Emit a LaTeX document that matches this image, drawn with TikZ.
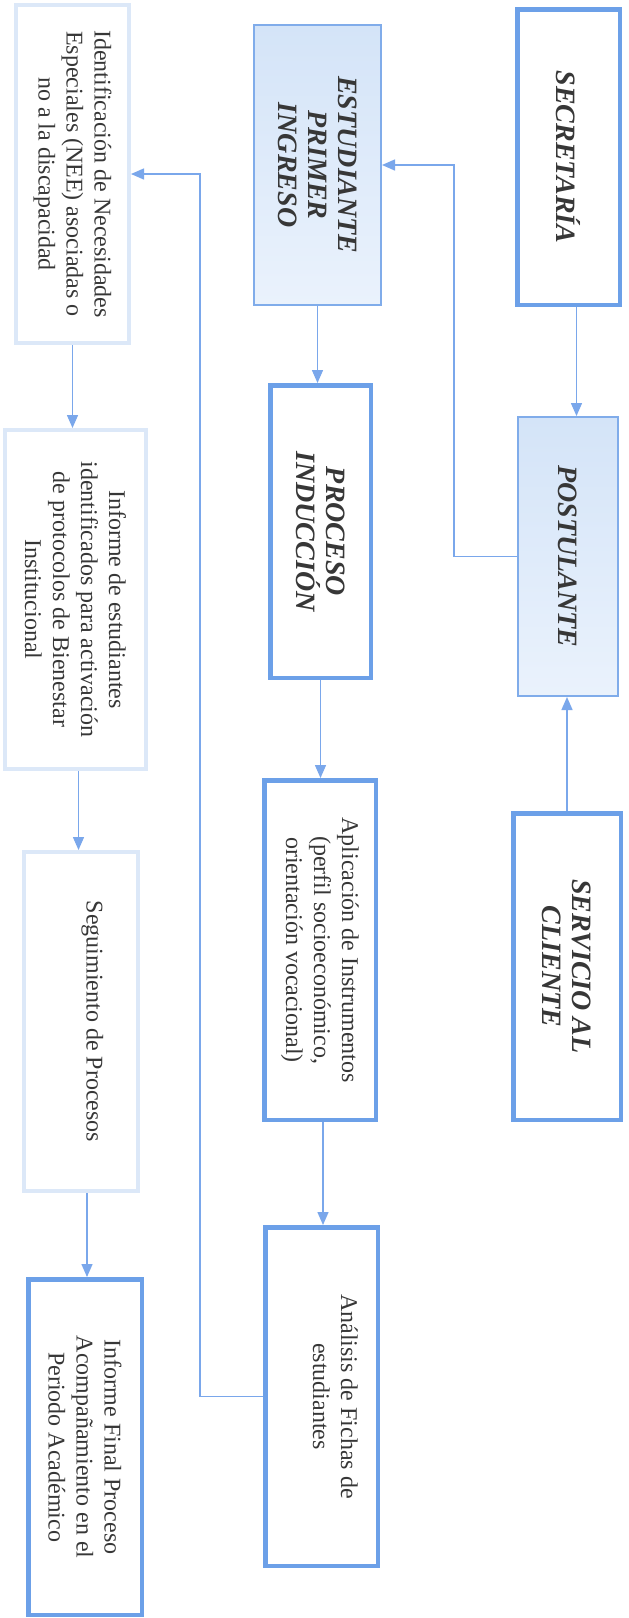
\documentclass[tikz,border=0pt]{standalone}
\usepackage{fontspec}
\setmainfont{Liberation Serif}
\usetikzlibrary{arrows.meta}
\definecolor{boxblue}{RGB}{108,160,232}
\definecolor{softblue}{RGB}{128,172,234}
\definecolor{paleblue}{RGB}{220,232,248}
\definecolor{linkblue}{RGB}{122,167,235}
\definecolor{fillA}{RGB}{234,242,252}
\definecolor{fillB}{RGB}{212,228,248}
\definecolor{txtgray}{RGB}{55,55,55}

\begin{document}
\begin{tikzpicture}[x=1pt,y=-1pt,
    base/.style={rotate=-90,inner sep=0pt,align=center,text=txtgray},
    body/.style={base,font=\fontsize{24}{28}\selectfont},
    head/.style={base,font=\fontsize{28}{30}\selectfont\bfseries\itshape},
    thickbox/.style={draw=boxblue,line width=4.5pt,fill=white},
    softbox/.style={draw=softblue,line width=2pt,top color=fillB,bottom color=fillA},
    palebox/.style={draw=paleblue,line width=4pt,fill=white},
    link/.style={draw=linkblue,line width=1.4pt,-{Triangle[length=13pt,width=11pt]}}]
    \path[use as bounding box,fill=white] (0,0) rectangle (629,1618);

    % first column
    \node[head,thickbox,minimum width=295.5pt,minimum height=102.5pt] (sec) at (568.5,157) {SECRETARÍA};
    \node[head,softbox,minimum width=279pt,minimum height=100pt] (post) at (568,556.5) {POSTULANTE};
    \node[head,thickbox,minimum width=306.5pt,minimum height=107.5pt] (serv) at (567,966.5) {SERVICIO AL\\CLIENTE};

    % second column
    \node[head,softbox,minimum width=280pt,minimum height=127pt] (est) at (317.5,165) {ESTUDIANTE\\PRIMER\\INGRESO};
    \node[head,thickbox,minimum width=292.5pt,minimum height=100.5pt] (proc) at (320.5,531.5) {PROCESO\\INDUCCIÓN};
    \node[body,thickbox,minimum width=339.5pt,minimum height=111.5pt] (apl) at (320,950)
        {Aplicación de Instrumentos\\(perfil socioeconómico,\\orientación vocacional)};
    \node[body,thickbox,minimum width=338.5pt,minimum height=112.5pt] (ana) at (321.5,1396.5)
        {Análisis de Fichas de\\estudiantes\\\mbox{}};

    % third column
    \node[body,palebox,minimum width=338pt,minimum height=113pt] (ident) at (72.5,174)
        {Identificación de Necesidades\\Especiales (NEE) asociadas o\\no a la discapacidad};
    \node[body,palebox,minimum width=339pt,minimum height=141pt] (inf) at (75.5,599.5)
        {Informe de estudiantes\\identificados para activación\\de protocolos de Bienestar\\Institucional};
    \node[body,palebox,minimum width=339pt,minimum height=114pt] (seg) at (81,1021.5) {Seguimiento de Procesos\\\mbox{}};
    \node[body,thickbox,minimum width=335.5pt,minimum height=113.5pt] (fin) at (85,1447)
        {Informe Final Proceso\\Acompañamiento en el\\Periodo Académico};

    \draw[link] ([xshift=8pt]sec.east) -- ([xshift=8pt]sec.east |- post.west);
    \draw[link] (serv.west) -- (serv.west |- post.east);
    \draw[link] (est.east) -- (est.east |- proc.west);
    \draw[link] (proc.east) -- (proc.east |- apl.west);
    \draw[link] ([xshift=3pt]apl.east) -- ([xshift=3pt]apl.east |- ana.west);
    \draw[link] (ident.east) -- (ident.east |- inf.west);
    \draw[link] ([xshift=3pt]inf.east) -- ([xshift=3pt]inf.east |- seg.west);
    \draw[link] ([xshift=6pt]seg.east) -- ([xshift=6pt]seg.east |- fin.west);
    % back links
    \draw[link] (post.south) -- ++(-63,0) |- (est.north);
    \draw[link] (ana.south) -- ++(-63,0) |- (ident.north);
\end{tikzpicture}
\end{document}
